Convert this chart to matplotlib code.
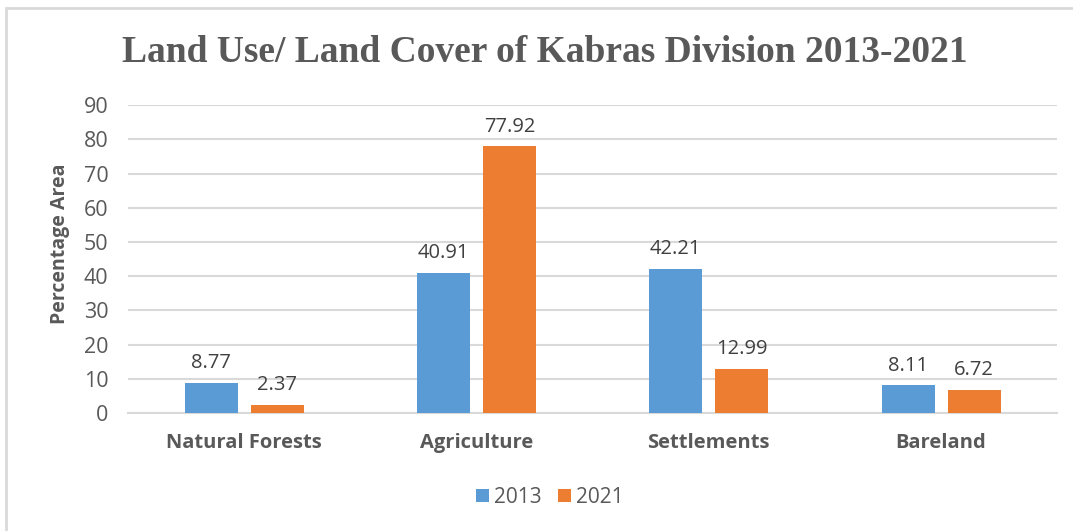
import matplotlib.pyplot as plt
import matplotlib.patches as mpatches
import numpy as np

categories = ["Natural Forests", "Agriculture", "Settlements", "Bareland"]
values_2013 = [8.77, 40.91, 42.21, 8.11]
values_2021 = [2.37, 77.92, 12.99, 6.72]
series_names = ["2013", "2021"]
yticks = [0, 10, 20, 30, 40, 50, 60, 70, 80, 90]

blue = "#5b9bd5"
orange = "#ed7d31"
grey_text = "#595959"

fig = plt.figure(figsize=(10.73, 5.31), dpi=100)
ax = fig.add_axes([0.1193, 0.222, 0.866, 0.58])

# outer chart frame, cut off at right and bottom like the screenshot
fig.patches.append(mpatches.Rectangle((6 / 1073, -0.05), 1.1, 1 - 8 / 531 + 0.05,
                                      transform=fig.transFigure, fill=False,
                                      edgecolor="#d9d9d9", linewidth=2))

x = np.arange(len(categories))
width = 0.228
off = 0.142
b1 = ax.bar(x - off, values_2013, width, color=blue, label=series_names[0], zorder=3)
b2 = ax.bar(x + off, values_2021, width, color=orange, label=series_names[1], zorder=3)

for bars, vals in ((b1, values_2013), (b2, values_2021)):
    for rect, v in zip(bars, vals):
        ax.annotate(f"{v:.2f}", (rect.get_x() + rect.get_width() / 2, v),
                    xytext=(0, 7), textcoords="offset points", ha="center", va="bottom",
                    fontsize=14.5, color="#404040", family="Open Sans")

ax.set_xlim(-0.5, 3.5)
ax.set_ylim(0, 90)
ax.set_yticks(yticks)
ax.yaxis.grid(True, color="#d9d9d9", linewidth=1.5, zorder=0)
ax.set_axisbelow(True)
for s in ["top", "right", "left"]:
    ax.spines[s].set_visible(False)
ax.spines["bottom"].set_color("#d9d9d9")
ax.spines["bottom"].set_linewidth(1.5)
ax.tick_params(axis="both", length=0)
ax.tick_params(axis="y", labelsize=15.5, labelcolor=grey_text, pad=14)
ax.set_yticklabels([str(t) for t in yticks], family="Open Sans")
ax.set_xticks(x)
ax.set_xticklabels(categories, fontsize=14.5, fontweight="bold", color=grey_text,
                   family="Open Sans")
ax.tick_params(axis="x", pad=14)
ax.set_ylabel("Percentage Area", fontsize=14, fontweight="bold", color=grey_text,
              family="Open Sans", va="center")
ax.yaxis.set_label_coords(-0.0732, 0.549)

fig.text(0.508, 0.902, "Land Use/ Land Cover of Kabras Division 2013-2021",
         ha="center", va="center", fontsize=27, fontweight="bold",
         color=grey_text, family="Liberation Serif")

ax.legend(loc="center", bbox_to_anchor=(0.5126, 0.064), bbox_transform=fig.transFigure,
          ncol=2, frameon=False, handlelength=0.6, handleheight=0.6,
          handletextpad=0.25, columnspacing=0.8,
          prop={"family": "Open Sans", "size": 15}, labelcolor=grey_text)

fig.savefig("out.png", dpi=100)
